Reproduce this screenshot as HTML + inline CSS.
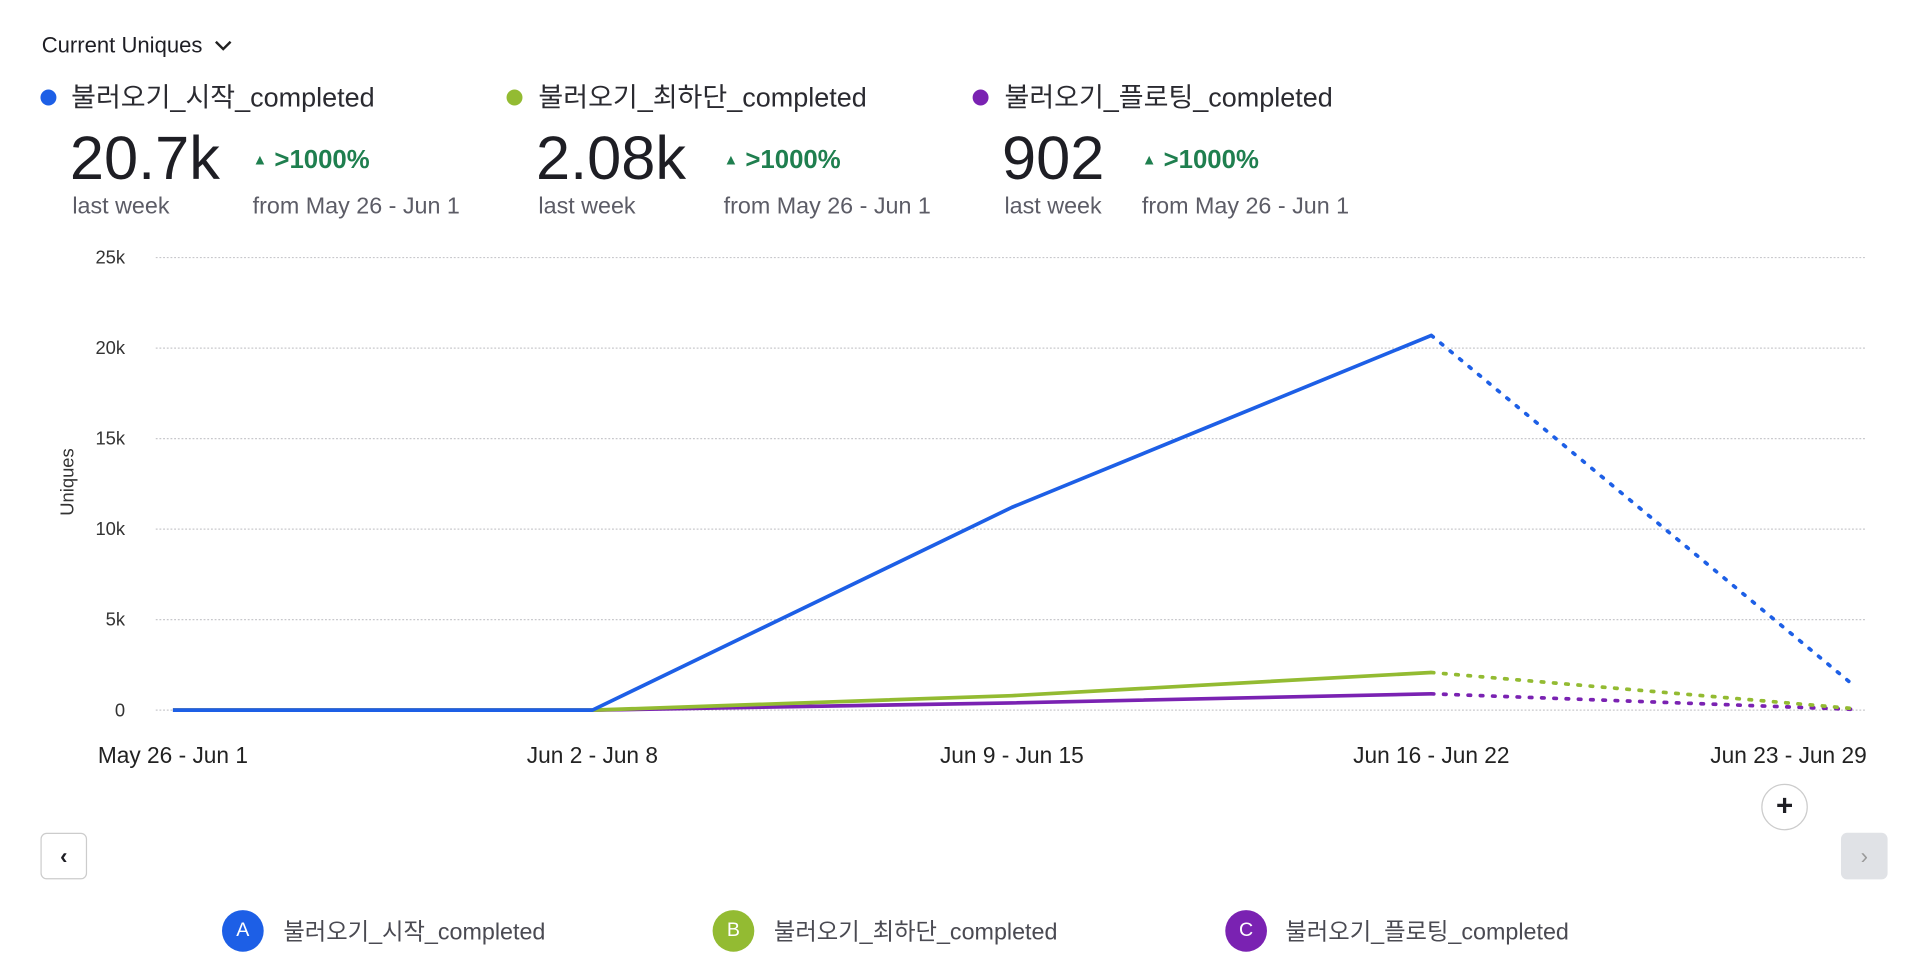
<!DOCTYPE html>
<html><head><meta charset="utf-8"><style>
html,body{margin:0;padding:0;background:#fff;overflow:hidden}
#wrap{width:1570px;height:794px;transform:scale(1.2265);transform-origin:0 0;position:relative;font-family:"Liberation Sans","Noto Sans CJK KR",sans-serif;color:#1e1e24}
.abs{position:absolute;white-space:nowrap}
.dot{position:absolute;width:13px;height:13px;border-radius:50%}
.big{font-size:50px;font-weight:500;letter-spacing:0px}
.pct{color:#1f7f4f;font-size:21px;font-weight:bold}
.sub{color:#5c5c66;font-size:19px}
.leg{font-size:22px;color:#2a2a30}
.badge{position:absolute;width:34px;height:34px;border-radius:50%;color:#fff;font-size:16px;text-align:center;line-height:34px}
.blab{font-size:19px;color:#4a4a52}
</style></head><body>
<div id="wrap">
<div class="abs" style="left:34px;top:27px;font-size:18px">Current Uniques <svg width="16" height="12" style="margin-left:4px"><path d="M2 3 L8 9 L14 3" stroke="#222" stroke-width="2" fill="none"/></svg></div>

<div class="dot" style="left:33px;top:73px;background:#1d5fe6"></div>
<div class="abs leg" style="left:58px;top:62px">불러오기_시작_completed</div>
<div class="abs big" style="left:57px;top:100px">20.7k</div>
<div class="abs pct" style="left:206px;top:119px"><span style="font-size:12px;vertical-align:3px">▲</span> &gt;1000%</div>
<div class="abs sub" style="left:59px;top:158px">last week</div>
<div class="abs sub" style="left:206px;top:158px">from May 26 - Jun 1</div>

<div class="dot" style="left:413px;top:73px;background:#93bb32"></div>
<div class="abs leg" style="left:439px;top:62px">불러오기_최하단_completed</div>
<div class="abs big" style="left:437px;top:100px">2.08k</div>
<div class="abs pct" style="left:590px;top:119px"><span style="font-size:12px;vertical-align:3px">▲</span> &gt;1000%</div>
<div class="abs sub" style="left:439px;top:158px">last week</div>
<div class="abs sub" style="left:590px;top:158px">from May 26 - Jun 1</div>

<div class="dot" style="left:793px;top:73px;background:#7a22b2"></div>
<div class="abs leg" style="left:819px;top:62px">불러오기_플로팅_completed</div>
<div class="abs big" style="left:817px;top:100px">902</div>
<div class="abs pct" style="left:931px;top:119px"><span style="font-size:12px;vertical-align:3px">▲</span> &gt;1000%</div>
<div class="abs sub" style="left:819px;top:158px">last week</div>
<div class="abs sub" style="left:931px;top:158px">from May 26 - Jun 1</div>

<svg id="chart" class="abs" style="left:0;top:0" width="1570" height="794"></svg>

<div class="abs" style="left:1436px;top:639px;width:36px;height:36px;border:1px solid #ccc;border-radius:50%;text-align:center;line-height:36px;font-size:24px;font-weight:bold">+</div>
<div class="abs" style="left:33px;top:679px;width:36px;height:36px;border:1px solid #ccc;border-radius:5px;text-align:center;line-height:36px;font-size:18px;font-weight:bold">‹</div>
<div class="abs" style="left:1501px;top:679px;width:38px;height:38px;background:#e0e2e6;border-radius:5px;text-align:center;line-height:38px;font-size:18px;color:#999">›</div>

<div class="badge" style="left:181px;top:742px;background:#1d5fe6">A</div>
<div class="abs blab" style="left:231px;top:745px">불러오기_시작_completed</div>
<div class="badge" style="left:581px;top:742px;background:#93bb32">B</div>
<div class="abs blab" style="left:631px;top:745px">불러오기_최하단_completed</div>
<div class="badge" style="left:999px;top:742px;background:#7a22b2">C</div>
<div class="abs blab" style="left:1048px;top:745px">불러오기_플로팅_completed</div>
</div>
<script>
const categories=["May 26 - Jun 1","Jun 2 - Jun 8","Jun 9 - Jun 15","Jun 16 - Jun 22","Jun 23 - Jun 29"];
const seriesA=[0,0,11200,20700,1500];
const seriesB=[0,0,800,2080,100];
const seriesC=[0,0,400,902,50];
const yTicks=[0,5000,10000,15000,20000,25000];
const yTickLabels=["0","5k","10k","15k","20k","25k"];
const colors=["#1d5fe6","#93bb32","#7a22b2"];
const NS="http://www.w3.org/2000/svg";
const svg=document.getElementById('chart');
const x=i=>141+i*342;
const y=v=>579-v/25000*369;
function mk(t,a){const e=document.createElementNS(NS,t);for(const k in a)e.setAttribute(k,a[k]);svg.appendChild(e);return e;}
yTicks.forEach((v,i)=>{
  const g=mk('line',{x1:127,x2:1522,y1:y(v),y2:y(v),stroke:'#c8c8cc','stroke-dasharray':'1.5 1.5'});
  
  
  const t=mk('text',{x:102,y:y(v)+5,'text-anchor':'end','font-size':15,fill:'#333','font-family':'Liberation Sans, sans-serif'});
  t.textContent=yTickLabels[i];
  
  
});
categories.forEach((c,i)=>{
  const last=i===categories.length-1;
  const t=mk('text',{x:last?1522:x(i),y:622,'text-anchor':last?'end':'middle','font-size':18.5,fill:'#222','font-family':'Liberation Sans, sans-serif'});
  t.textContent=c;
  
  
});
const yt=mk('text',{x:0,y:0,transform:'translate(60,393) rotate(-90)','text-anchor':'middle','font-size':15,fill:'#333','font-family':'Liberation Sans, sans-serif'});
yt.textContent='Uniques';


[seriesC,seriesB,seriesA].forEach((s,k)=>{
  const col=colors[2-k];const n=s.length;
  const pts=s.slice(0,n-1).map((v,i)=>x(i)+','+y(v)).join(' ');
  const p=mk('polyline',{points:pts,fill:'none',stroke:col,'stroke-width':3,'stroke-linejoin':'round'});
  
  
  const d=mk('line',{x1:x(n-2),y1:y(s[n-2]),x2:x(n-1),y2:y(s[n-1]),stroke:col,'stroke-width':3,'stroke-dasharray':'2 8','stroke-linecap':'round'});
  
  
});
</script>
</body></html>
